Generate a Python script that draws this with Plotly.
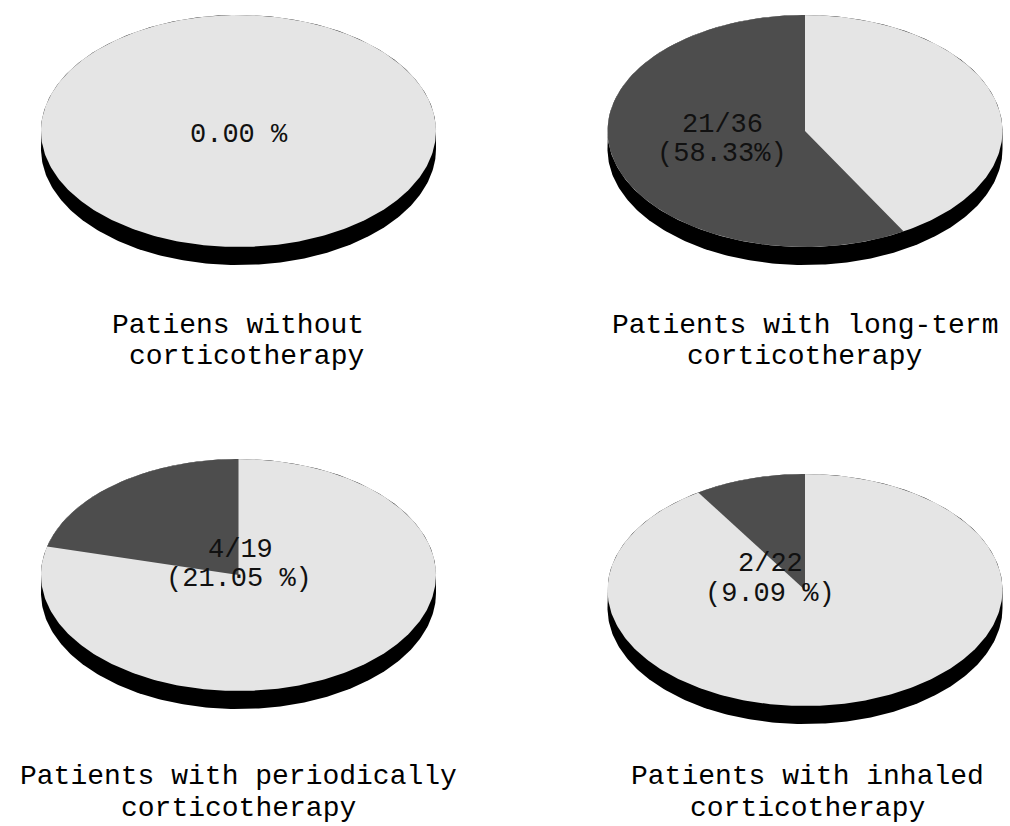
import numpy as np
import plotly.graph_objects as go

# Groups of patients and the share of each group with the outcome
group_line1 = ["Patiens without", "Patients with long-term",
               "Patients with periodically", "Patients with inhaled"]
group_line2 = ["corticotherapy", "corticotherapy", "corticotherapy", "corticotherapy"]
affected = [0, 21, 4, 2]
totals = [None, 36, 19, 22]
percent = [0.00, 58.33, 21.05, 9.09]
value_line1 = ["0.00 %", "21/36", "4/19", "2/22"]
value_line2 = ["", "(58.33%)", "(21.05 %)", "(9.09 %)"]

# Layout of the four tilted pies (page pixel units)
centers = [(238.5, 131), (805, 131), (238.5, 575), (805, 590)]
RX, RY, DEPTH = 197.5, 116, 18
label_pos = [[(239, 135)], [(722, 125), (722, 154)],
             [(240, 550), (239, 579)], [(770, 564), (770, 594)]]
title_pos = [[(237.5, 325), (246, 356)], [(805, 325), (804, 356)],
             [(238, 776), (238, 808)], [(807, 776), (807, 808)]]

LIGHT, DARK, SIDE = "#e5e5e5", "#4d4d4d", "#000000"

fig = go.Figure()


def add_poly(xs, ys, color):
    fig.add_trace(go.Scatter(x=xs, y=ys, mode="lines", fill="toself",
                             fillcolor=color, line=dict(width=0, color=color),
                             hoverinfo="skip", showlegend=False))


for i, (cx, cy) in enumerate(centers):
    # side wall: lower rim of the extruded disc plus the upper half of the top
    t_low = np.linspace(0, np.pi, 200)
    t_up = np.linspace(np.pi, 2 * np.pi, 200)
    xs = np.concatenate([cx + RX * np.cos(t_low), cx + RX * np.cos(t_up)])
    ys = np.concatenate([cy + DEPTH + RY * np.sin(t_low), cy + RY * np.sin(t_up)])
    add_poly(xs, ys, SIDE)

    # top surface
    t = np.linspace(0, 2 * np.pi, 400)
    add_poly(cx + RX * np.cos(t), cy + RY * np.sin(t), LIGHT)

    # highlighted sector, counter-clockwise from twelve o'clock
    share = percent[i] / 100.0
    if share > 0:
        th = np.linspace(0, 2 * np.pi * share, max(int(400 * share), 3))
        xs = np.concatenate([[cx], cx - RX * np.sin(th), [cx]])
        ys = np.concatenate([[cy], cy - RY * np.cos(th), [cy]])
        add_poly(xs, ys, DARK)

annotations = []
for i in range(4):
    texts = [value_line1[i], value_line2[i]]
    for (x, y), txt in zip(label_pos[i], texts):
        if txt:
            annotations.append(dict(x=x, y=y, xref="x", yref="y", text=txt,
                                    showarrow=False, xanchor="center", yanchor="middle",
                                    font=dict(family="Liberation Mono", size=27,
                                              color="#111111")))
    for (x, y), txt in zip(title_pos[i], [group_line1[i], group_line2[i]]):
        annotations.append(dict(x=x, y=y, xref="x", yref="y", text=txt,
                                showarrow=False, xanchor="center", yanchor="middle",
                                font=dict(family="Liberation Mono", size=28,
                                          color="#000000")))

fig.update_layout(
    width=1010, height=826,
    margin=dict(l=0, r=0, t=0, b=0),
    paper_bgcolor="white", plot_bgcolor="white",
    xaxis=dict(range=[0, 1010], visible=False, fixedrange=True),
    yaxis=dict(range=[826, 0], visible=False, fixedrange=True),
    showlegend=False,
    annotations=annotations,
)

fig.write_html("out.html")
